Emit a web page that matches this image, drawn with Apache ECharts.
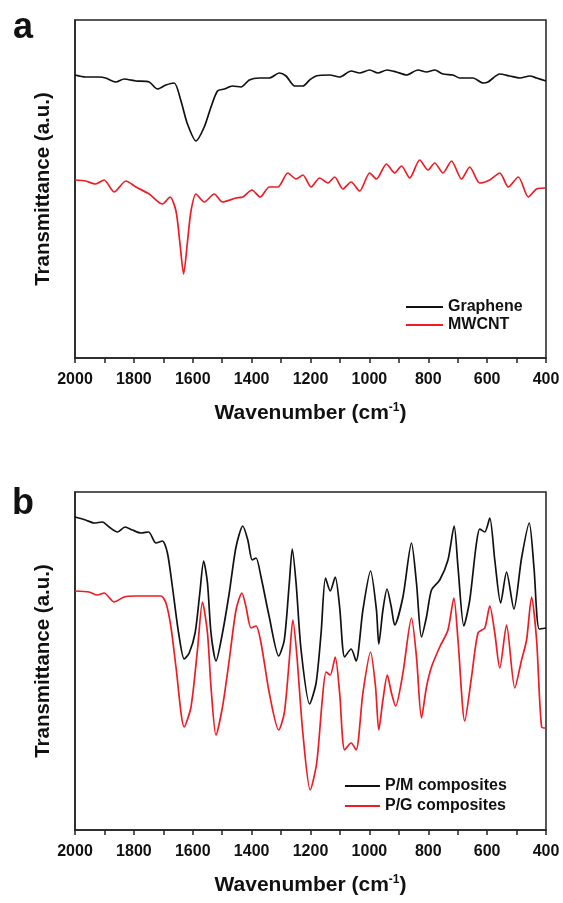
<!DOCTYPE html>
<html>
<head>
<meta charset="utf-8">
<script src="https://cdn.jsdelivr.net/npm/echarts@6/dist/echarts.min.js"></script>
<style>
html,body{margin:0;padding:0;background:#fff;}
#chart{width:563px;height:903px;}
</style>
</head>
<body>
<div id="chart"></div>
<script>
// Tick labels (x-axis, wavenumber cm-1)
var xTicks = [2000, 1800, 1600, 1400, 1200, 1000, 800, 600, 400];

// Panel a: Graphene (black)
var grapheneWn = [2000,1964,1918,1896,1861,1833,1793,1748,1720,1691,1663,1640,1618,1589,1561,1538,1516,1493,1465,1436,1408,1374,1340,1306,1283,1254,1226,1203,1181,1135,1101,1062,1033,999,971,940,908,874,835,806,778,750,716,693,648,614,597,557,523,489,455,432,400];
var grapheneT  = [283,281,281,280,276,279,277,276,269,273,275,257,234,217,231,251,267,269,272,271,278,280,280,285,282,272,272,278,282,283,281,287,285,288,285,288,286,283,288,286,288,284,283,280,280,275,276,284,282,280,282,280,277];

// Panel a: MWCNT (red)
var mwcntWn = [2000,1964,1930,1901,1867,1827,1793,1748,1703,1677,1657,1644,1631,1618,1606,1589,1561,1527,1499,1453,1430,1399,1371,1340,1311,1277,1249,1226,1198,1169,1141,1118,1090,1062,1033,999,976,942,914,891,863,829,801,778,750,721,687,659,625,591,557,528,494,460,432,400];
var mwcntT  = [178,177,174,178,166,177,171,164,154,161,147,116,84,116,147,164,156,164,156,160,161,168,161,171,171,185,179,183,171,180,175,181,169,176,167,185,179,194,185,192,180,198,188,195,185,197,179,191,175,178,185,171,181,161,169,170];

// Panel b: P/M composites (black)
var pmWn = [2000,1964,1935,1907,1884,1856,1830,1805,1776,1750,1725,1703,1686,1669,1648,1629,1612,1592,1576,1563,1550,1538,1521,1499,1476,1453,1430,1413,1398,1385,1368,1340,1308,1289,1272,1262,1249,1232,1203,1181,1164,1149,1133,1116,1101,1084,1062,1045,1022,996,976,968,954,940,925,914,886,857,840,823,806,789,761,733,712,699,679,659,638,625,608,591,574,554,534,509,483,457,441,423,400];
var pmT  = [313,310,307,308,303,298,303,300,297,298,287,289,277,243,197,171,177,197,237,269,247,197,169,197,237,283,304,290,270,272,253,213,174,190,247,281,247,180,126,147,197,252,239,253,223,173,181,169,220,259,220,186,220,241,222,205,233,287,247,193,213,240,250,270,304,263,204,230,283,301,298,312,270,227,258,221,272,307,263,201,202];

// Panel b: P/G composites (red)
var pgWn = [2000,1952,1924,1901,1867,1833,1793,1748,1708,1691,1674,1657,1629,1606,1584,1567,1550,1538,1521,1499,1476,1453,1433,1419,1402,1385,1368,1340,1308,1289,1272,1260,1247,1226,1201,1179,1160,1147,1133,1116,1101,1084,1062,1045,1022,996,979,968,954,939,925,911,886,857,840,823,806,789,761,733,713,699,676,653,631,608,591,574,557,534,506,483,466,449,432,415,400];
var pgT  = [239,238,235,237,228,233,234,234,234,227,203,163,103,123,180,228,197,143,95,123,170,220,237,223,202,204,187,137,100,117,170,210,177,97,40,67,130,158,155,173,137,80,87,80,137,178,143,100,130,155,137,124,157,212,173,112,143,163,183,200,232,190,109,153,197,202,224,197,162,205,142,170,190,233,190,103,102];

function zip(a, b) { return a.map(function (v, i) { return [v, b[i]]; }); }

var BLACK = '#111111';
var RED = '#ee1c24';
var FONT = 'Liberation Sans, Arial, sans-serif';

function xAxisFor(gi) {
  return {
    type: 'value', gridIndex: gi, min: 400, max: 2000, interval: 200, inverse: true,
    name: 'Wavenumber (cm{sup|-1})', nameLocation: 'middle', nameGap: 44,
    nameTextStyle: {
      fontFamily: FONT, fontWeight: 'bold', fontSize: 21, color: '#111',
      rich: { sup: { fontFamily: FONT, fontWeight: 'bold', fontSize: 12, color: '#111', verticalAlign: 'top', padding: [0,0,11,0] } }
    },
    axisLine: { show: true, onZero: false, lineStyle: { color: '#222', width: 1.5 } },
    axisTick: { show: true, inside: false, length: 5, lineStyle: { color: '#222', width: 1.5 } },
    minorTick: { show: true, splitNumber: 2, length: 5, lineStyle: { color: '#222', width: 1.5 } },
    axisLabel: { show: true, margin: 14, fontFamily: FONT, fontWeight: 'bold', fontSize: 16, color: '#111',
      formatter: function (v) { return xTicks.indexOf(v) >= 0 ? String(v) : ''; } },
    splitLine: { show: false }
  };
}
function yAxisFor(gi, maxv) {
  return {
    type: 'value', gridIndex: gi, min: 0, max: maxv,
    name: 'Transmittance (a.u.)', nameLocation: 'middle', nameGap: 21,
    nameTextStyle: { fontFamily: FONT, fontWeight: 'bold', fontSize: 20.5, color: '#111' },
    axisLine: { show: true, onZero: false, lineStyle: { color: '#222', width: 1.5 } },
    axisTick: { show: false }, axisLabel: { show: false }, splitLine: { show: false }
  };
}
function lineSeries(name, gi, data, color) {
  return {
    type: 'line', name: name, xAxisIndex: gi, yAxisIndex: gi, data: data,
    symbol: 'none', smooth: 0.25, silent: true,
    lineStyle: { color: color, width: 1.7 }, itemStyle: { color: color }
  };
}

var chart = echarts.init(document.getElementById('chart'), null, { renderer: 'canvas' });
chart.setOption({
  backgroundColor: '#fff',
  animation: false,
  grid: [
    { left: 75, right: 17, top: 20, height: 338, show: true, borderColor: '#222', borderWidth: 1.5, backgroundColor: 'transparent' },
    { left: 75, right: 17, top: 492, height: 338, show: true, borderColor: '#222', borderWidth: 1.5, backgroundColor: 'transparent' }
  ],
  xAxis: [xAxisFor(0), xAxisFor(1)],
  yAxis: [yAxisFor(0, 338), yAxisFor(1, 338)],
  legend: [
    { data: ['Graphene', 'MWCNT'], orient: 'vertical', left: 401, top: 294, itemGap: 2, itemWidth: 37, itemHeight: 2, icon: 'rect',
      textStyle: { fontFamily: FONT, fontWeight: 'bold', fontSize: 16, color: '#111' } },
    { data: ['P/M composites', 'P/G composites'], orient: 'vertical', left: 340, top: 773, itemGap: 4, itemWidth: 35, itemHeight: 2, icon: 'rect',
      textStyle: { fontFamily: FONT, fontWeight: 'bold', fontSize: 16, color: '#111' } }
  ],
  graphic: [
    { type: 'text', left: 13, top: 10, style: { text: 'a', font: 'bold 36px Liberation Sans, Arial, sans-serif', fill: '#111' } },
    { type: 'text', left: 12, top: 486, style: { text: 'b', font: 'bold 36px Liberation Sans, Arial, sans-serif', fill: '#111' } }
  ],
  series: [
    lineSeries('Graphene', 0, zip(grapheneWn, grapheneT), BLACK),
    lineSeries('MWCNT', 0, zip(mwcntWn, mwcntT), RED),
    lineSeries('P/M composites', 1, zip(pmWn, pmT), BLACK),
    lineSeries('P/G composites', 1, zip(pgWn, pgT), RED)
  ]
});
</script>
</body>
</html>
